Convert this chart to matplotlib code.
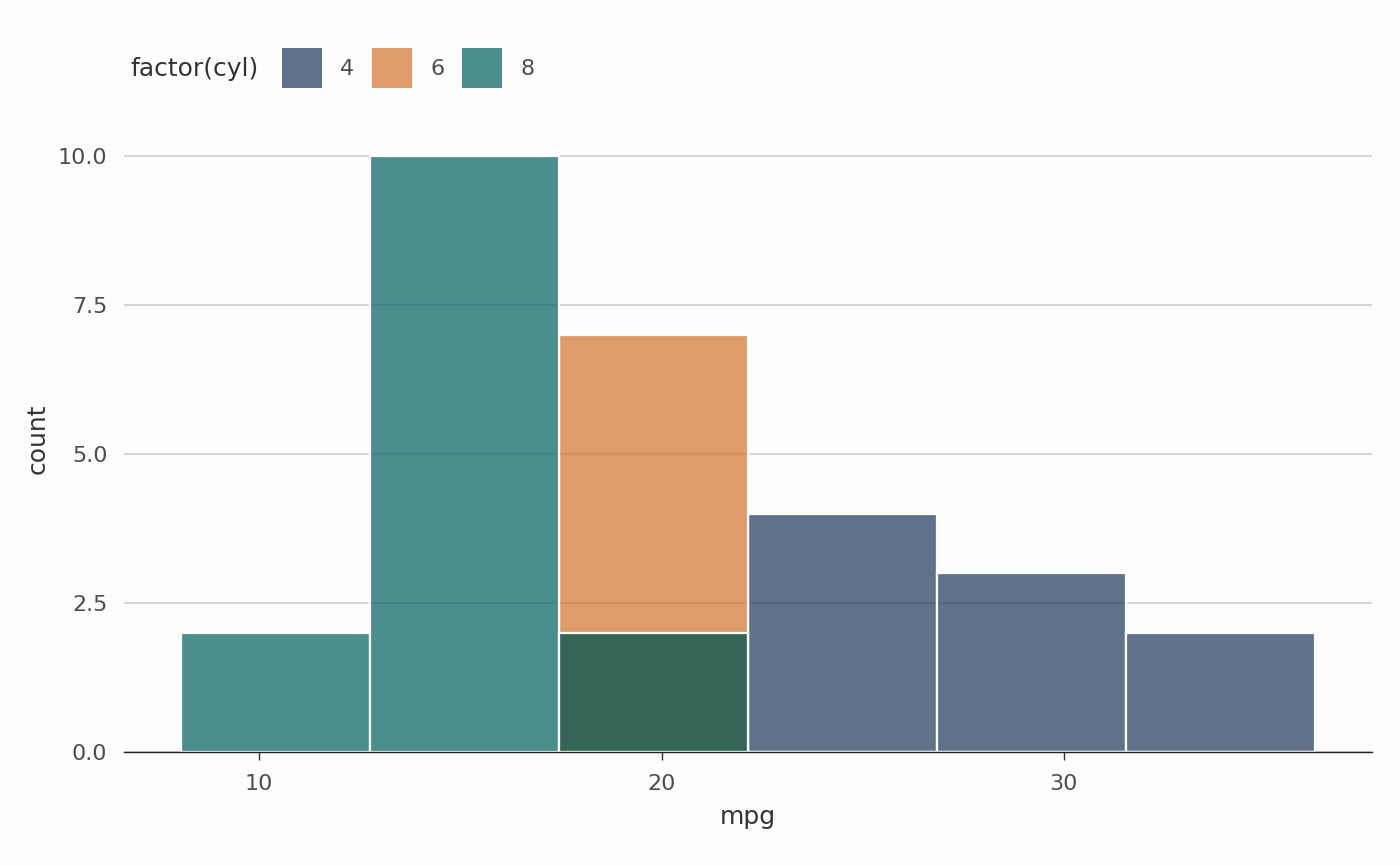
import numpy as np
import matplotlib
matplotlib.use('Agg')
import matplotlib.pyplot as plt
from matplotlib.colors import to_rgba
from matplotlib.patches import Rectangle

# histogram of mpg, 6 bins of width 4.7, one overlapping layer per cyl
bin_edges = [8.05, 12.75, 17.45, 22.15, 26.85, 31.55, 36.25]
groups = ['4', '6', '8']
counts_4 = [0, 0, 2, 4, 3, 2]
counts_6 = [0, 0, 7, 0, 0, 0]
counts_8 = [2, 10, 2, 0, 0, 0]
y_ticks = [0.0, 2.5, 5.0, 7.5, 10.0]
x_ticks = [10, 20, 30]

colors = ['#1C375B', '#D3732A', '#00605E']
alpha = 0.7
bg = '#FDFDFD'

fig = plt.figure(figsize=(7, 4.33), dpi=200, facecolor=bg)
ax = fig.add_axes([0.0886, 0.1316, 0.98 - 0.0886, 0.8545 - 0.1316])
ax.set_facecolor(bg)

edges = np.array(bin_edges)
widths = np.diff(edges)
# alpha on the fill only, outline stays solid white (like ggplot)
for i, cnt in enumerate([counts_4, counts_6, counts_8]):
    ax.bar(edges[:-1], cnt, width=widths, align='edge',
           facecolor=to_rgba(colors[i], alpha), edgecolor='white',
           linewidth=0.8, zorder=3)

span = edges[-1] - edges[0]
ax.set_xlim(edges[0] - 0.05 * span, edges[-1] + 0.05 * span)
ax.set_ylim(0, 10.5)

ax.set_yticks(y_ticks)
ax.set_yticklabels(['%.1f' % v for v in y_ticks])
ax.set_xticks(x_ticks)
ax.grid(axis='y', color='#D6D6D6', linewidth=0.75, zorder=0)
ax.grid(axis='x', visible=False)
for s in ['top', 'right', 'left']:
    ax.spines[s].set_visible(False)
ax.spines['bottom'].set_color('#222222')
ax.spines['bottom'].set_linewidth(0.5)
ax.spines['bottom'].set_zorder(4)
ax.tick_params(axis='y', length=0, labelsize=8, labelcolor='#4D4D4D', pad=6)
ax.tick_params(axis='x', length=3, width=0.5, color='#333333', labelsize=8,
               labelcolor='#4D4D4D', pad=5)
ax.set_xlabel('mpg', fontsize=9, color='#333333', labelpad=4)
ax.set_ylabel('count', fontsize=9, color='#333333', labelpad=3)

# legend on top, title on the left of the keys
W, H = 1400.0, 866.0
fig.text(130 / W, 1 - 69 / H, 'factor(cyl)', fontsize=9, color='#333333',
         ha='left', va='center')
key_x = [282, 372, 462]
for i, g in enumerate(groups):
    fig.add_artist(Rectangle((key_x[i] / W, 1 - 88 / H), 40 / W, 40 / H,
                             transform=fig.transFigure,
                             facecolor=to_rgba(colors[i], alpha),
                             edgecolor='none'))
    fig.text((key_x[i] + 58) / W, 1 - 69 / H, g, fontsize=8, color='#4D4D4D',
             ha='left', va='center')

fig.savefig('out.png', dpi=200, facecolor=bg)
